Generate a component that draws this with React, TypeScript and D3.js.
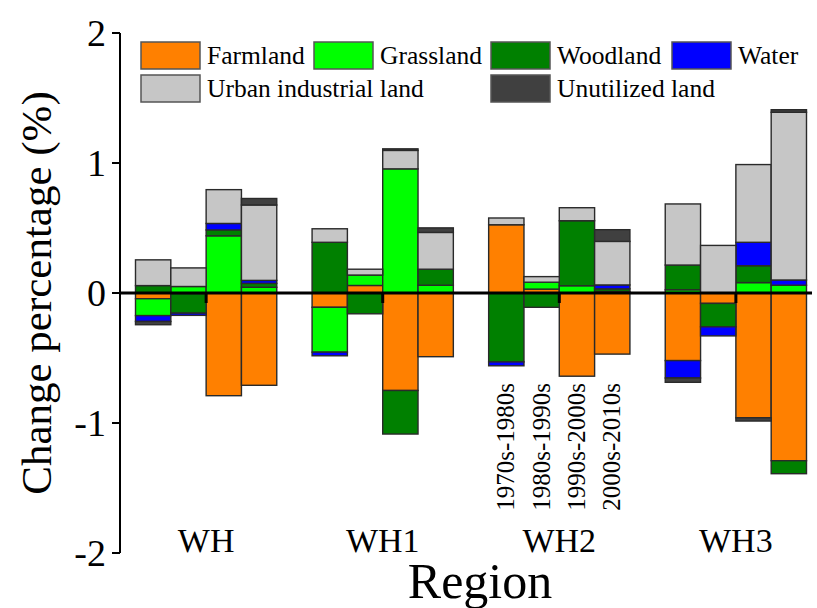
import React from "react";
import * as d3 from "d3";

// Regions and periods
const regions = ["WH", "WH1", "WH2", "WH3"];
const periods = ["1970s-1980s", "1980s-1990s", "1990s-2000s", "2000s-2010s"];

// Change percentage (%) per land type, 4 periods per region in region order
const farmland = [-0.044, -0.005, -0.79, -0.71, -0.11, 0.058, -0.75, -0.49, 0.525, 0.03, -0.64, -0.47, -0.52, -0.08, -0.96, -1.29];
const grassland = [-0.13, 0.05, 0.44, 0.044, -0.345, 0.08, 0.955, 0.06, 0, 0.053, 0.056, 0.012, 0.025, 0, 0.08, 0.06];
const woodland = [0.057, -0.15, 0.045, 0.03, 0.39, -0.16, -0.335, 0.123, -0.53, -0.11, 0.5, 0.02, 0.19, -0.18, 0.13, -0.1];
const water = [-0.045, -0.017, 0.05, 0.023, -0.028, 0, 0, 0, -0.03, 0, 0, 0.03, -0.134, -0.07, 0.18, 0.04];
const urban = [0.198, 0.143, 0.26, 0.58, 0.104, 0.045, 0.142, 0.283, 0.052, 0.043, 0.1, 0.335, 0.47, 0.366, 0.598, 1.29];
const unutilized = [-0.025, 0, 0, 0.05, 0, 0, 0.012, 0.035, 0, 0, 0, 0.09, -0.033, 0, -0.025, 0.02];

const landTypes = ["Farmland", "Grassland", "Woodland", "Water", "Urban industrial land", "Unutilized land"];
const landColors = ["#FF8000", "#00FF00", "#008000", "#0000FF", "#C6C6C6", "#404040"];
const yTicks = [-2, -1, 0, 1, 2];

const W = 817;
const H = 608;
const FONT = "'Liberation Serif', 'Times New Roman', serif";

export default function App() {
  const series = [farmland, grassland, woodland, water, urban, unutilized];
  const rows = regions.flatMap((r, gi) =>
    periods.map((p, pi) => {
      const row: Record<string, any> = { region: r, period: p };
      landTypes.forEach((k, ki) => (row[k] = series[ki][gi * 4 + pi]));
      return row;
    })
  );
  const stacked = d3.stack<any>().keys(landTypes).offset(d3.stackOffsetDiverging)(rows);

  const axisX = 120;
  const plotRight = 812;
  const y = d3.scaleLinear().domain([-2, 2]).range([553, 33]);
  const xg = d3.scaleBand<string>().domain(regions).range([axisX + 15.5, plotRight - 5.5]).paddingInner(0.2).paddingOuter(0);
  const xp = d3.scaleBand<string>().domain(periods).range([0, xg.bandwidth()]).padding(0);
  const color = d3.scaleOrdinal<string, string>().domain(landTypes).range(landColors);

  const y0 = y(0);

  // legend layout: two rows
  const legendItems = [
    { k: landTypes[0], x: 141, row: 0 },
    { k: landTypes[1], x: 314, row: 0 },
    { k: landTypes[2], x: 491, row: 0 },
    { k: landTypes[3], x: 672, row: 0 },
    { k: landTypes[4], x: 141, row: 1 },
    { k: landTypes[5], x: 491, row: 1 },
  ];

  return (
    <div style={{ position: "fixed", left: 0, top: 0 }}>
      <svg width={W} height={H} style={{ display: "block", background: "#fff" }} fontFamily={FONT}>
        {/* stacked bars */}
        {stacked.map((s) => (
          <g key={s.key} fill={color(s.key)}>
            {s.map((d, i) => {
              const top = y(Math.max(d[0], d[1]));
              const bot = y(Math.min(d[0], d[1]));
              if (bot - top < 0.01) return null;
              const row = rows[i];
              const x = (xg(row.region) ?? 0) + (xp(row.period) ?? 0);
              return (
                <rect key={i} x={x} y={top} width={xp.bandwidth()} height={bot - top}
                  stroke="#2a2a2a" strokeWidth={1.4} />
              );
            })}
          </g>
        ))}

        {/* x axis at zero */}
        <line x1={axisX} x2={plotRight} y1={y0} y2={y0} stroke="#000" strokeWidth={3} />
        {regions.map((r) => {
          const cx = (xg(r) ?? 0) + xg.bandwidth() / 2;
          return <line key={r} x1={cx} x2={cx} y1={y0} y2={y0 + 10} stroke="#000" strokeWidth={3} />;
        })}

        {/* y axis */}
        <line x1={axisX} x2={axisX} y1={y(2)} y2={y(-2)} stroke="#000" strokeWidth={2} />
        {yTicks.map((t) => (
          <g key={t}>
            <line x1={axisX - 8} x2={axisX} y1={y(t)} y2={y(t)} stroke="#000" strokeWidth={2} />
            <text x={axisX - 14} y={y(t)} dy="0.35em" textAnchor="end" fontSize={38}>
              {t < 0 ? "-" + Math.abs(t) : t}
            </text>
          </g>
        ))}

        {/* region labels */}
        {regions.map((r) => (
          <text key={r} x={(xg(r) ?? 0) + xg.bandwidth() / 2} y={552} textAnchor="middle" fontSize={34}>
            {r}
          </text>
        ))}

        {/* period labels under WH2 */}
        {periods.map((p) => {
          const cx = (xg("WH2") ?? 0) + (xp(p) ?? 0) + xp.bandwidth() / 2;
          return (
            <text key={p} transform={`translate(${cx + 8},383) rotate(-90)`} textAnchor="end" fontSize={25}>
              {p}
            </text>
          );
        })}

        {/* axis titles */}
        <text x={480} y={598} textAnchor="middle" fontSize={50}>Region</text>
        <text transform={`translate(51,${(y(2) + y(-2)) / 2}) rotate(-90)`} textAnchor="middle" fontSize={43}>
          Change percentage (%)
        </text>

        {/* legend */}
        {legendItems.map((it) => {
          const ly = 42 + it.row * 33;
          return (
            <g key={it.k}>
              <rect x={it.x} y={ly} width={59} height={27} fill={color(it.k)} stroke="#555" strokeWidth={1.5} />
              <text x={it.x + 66} y={ly + 22} fontSize={25.5}>{it.k}</text>
            </g>
          );
        })}
      </svg>
    </div>
  );
}
